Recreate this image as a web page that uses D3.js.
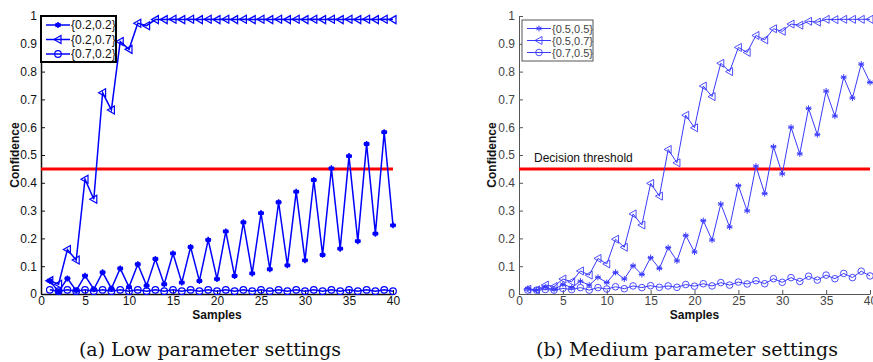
<!DOCTYPE html>
<html lang="en">
<head>
<meta charset="UTF-8">
<title>Confidence vs samples</title>
<script src="https://cdn.jsdelivr.net/npm/d3@7"></script>
<style>
  body { margin: 0; background: #fff; }
  text { font-family: "Liberation Sans", Arial, sans-serif; }
  .caption { font-family: "DejaVu Serif", "Liberation Serif", serif; font-size: 19px; fill: #111; }
</style>
</head>
<body>
<svg id="chart" width="873" height="362"></svg>
<script>
// shared x values: samples 1..40
var samples = [1,2,3,4,5,6,7,8,9,10,11,12,13,14,15,16,17,18,19,20,
               21,22,23,24,25,26,27,28,29,30,31,32,33,34,35,36,37,38,39,40];
var yTicks = [0,0.1,0.2,0.3,0.4,0.5,0.6,0.7,0.8,0.9,1];
var xTicks = [0,5,10,15,20,25,30,35,40];
var threshold = 0.45;

// (a) low parameter settings
var lowLabels = ["{0.2,0.2}", "{0.2,0.7}", "{0.7,0.2}"];
var low22 = [0.048,0.008,0.056,0.012,0.066,0.017,0.078,0.020,0.092,0.025,
             0.107,0.030,0.126,0.035,0.146,0.041,0.169,0.047,0.195,0.054,
             0.225,0.065,0.258,0.074,0.291,0.089,0.330,0.103,0.368,0.121,
             0.410,0.141,0.452,0.163,0.496,0.190,0.540,0.217,0.582,0.247];
var low27 = [0.048,0.035,0.160,0.122,0.413,0.341,0.724,0.662,0.908,0.880,
             0.974,0.965,0.987,0.987,0.988,0.987,0.988,0.987,0.988,0.987,
             0.988,0.987,0.988,0.987,0.988,0.987,0.988,0.987,0.988,0.987,
             0.988,0.987,0.988,0.987,0.988,0.987,0.988,0.987,0.988,0.987];
var low72 = [0.015,0.010,0.015,0.010,0.015,0.010,0.015,0.010,0.015,0.010,
             0.015,0.010,0.015,0.010,0.015,0.010,0.015,0.010,0.015,0.010,
             0.015,0.010,0.015,0.010,0.015,0.010,0.015,0.010,0.015,0.010,
             0.015,0.010,0.015,0.010,0.015,0.010,0.015,0.010,0.015,0.010];

// (b) medium parameter settings
var medLabels = ["{0.5,0.5}", "{0.5,0.7}", "{0.7,0.5}"];
var med55 = [0.020,0.014,0.024,0.016,0.035,0.023,0.046,0.032,0.060,0.041,
             0.078,0.054,0.102,0.070,0.131,0.092,0.167,0.119,0.211,0.151,
             0.264,0.194,0.324,0.241,0.390,0.299,0.460,0.361,0.530,0.432,
             0.600,0.504,0.668,0.573,0.730,0.640,0.780,0.705,0.827,0.761];
var med57 = [0.017,0.015,0.032,0.027,0.054,0.044,0.083,0.068,0.128,0.108,
             0.197,0.168,0.288,0.248,0.398,0.352,0.520,0.472,0.643,0.598,
             0.748,0.710,0.830,0.800,0.887,0.869,0.930,0.914,0.954,0.945,
             0.971,0.967,0.981,0.978,0.988,0.987,0.988,0.988,0.988,0.988];
var med75 = [0.014,0.014,0.016,0.014,0.020,0.016,0.023,0.014,0.023,0.018,
             0.026,0.019,0.029,0.023,0.030,0.024,0.029,0.024,0.034,0.028,
             0.037,0.029,0.041,0.032,0.043,0.036,0.048,0.037,0.055,0.042,
             0.059,0.045,0.064,0.050,0.068,0.055,0.074,0.059,0.082,0.065];

var svg = d3.select("#chart");

// marker drawing
function drawMarker(g, kind, x, y, color, thin) {
  if (kind == "star") {
    var r = 3;
    var p = "";
    [0, 60, 120].forEach(function(a) {
      var t = a * Math.PI / 180;
      p += "M" + (x - r*Math.sin(t)) + "," + (y - r*Math.cos(t)) +
           "L" + (x + r*Math.sin(t)) + "," + (y + r*Math.cos(t));
    });
    p += "M" + (x - r) + "," + y + "L" + (x + r) + "," + y;
    g.append("path").attr("d", p).attr("stroke", color)
      .attr("stroke-width", thin ? 1 : 1.5).attr("fill", "none");
    if (!thin) g.append("circle").attr("cx", x).attr("cy", y).attr("r", 2.2).attr("fill", color);
  } else if (kind == "tri") {
    g.append("path")
      .attr("d", "M" + (x-4) + "," + y + "L" + (x+3) + "," + (y-4) + "L" + (x+3) + "," + (y+4) + "Z")
      .attr("stroke", color).attr("stroke-width", thin ? 0.9 : 1.2).attr("fill", "none");
  } else {
    g.append("circle").attr("cx", x).attr("cy", y).attr("r", 3.3)
      .attr("stroke", color).attr("stroke-width", thin ? 0.9 : 1.2).attr("fill", "none");
  }
}

function drawPanel(opt) {
  var g = svg.append("g");
  var x = d3.scaleLinear().domain([0, 40]).range([opt.left, opt.right]);
  var y = d3.scaleLinear().domain([0, 1]).range([294, 16]);

  // axes, ticks pointing inward
  var yAx = d3.axisLeft(y).tickValues(yTicks).tickSizeInner(-4).tickSizeOuter(0)
    .tickPadding(4).tickFormat(function(d){ return d3.format("")(d); });
  var xAx = d3.axisBottom(x).tickValues(xTicks).tickSizeInner(-4).tickSizeOuter(0).tickPadding(2);

  var ya = g.append("g").attr("transform", "translate(" + opt.left + ",0)").call(yAx);
  var xa = g.append("g").attr("transform", "translate(0,294)").call(xAx);
  [ya, xa].forEach(function(a) {
    a.select(".domain").attr("stroke", opt.axisColor).attr("stroke-width", opt.axisWidth);
    a.selectAll(".tick line").attr("stroke", opt.axisColor);
    a.selectAll("text").attr("font-size", 12).attr("fill", opt.textColor)
      .attr("font-family", "'Liberation Sans', Arial, sans-serif");
  });

  // threshold
  g.append("line")
    .attr("x1", x(0)).attr("x2", x(40))
    .attr("y1", y(threshold)).attr("y2", y(threshold))
    .attr("stroke", "#ff0000").attr("stroke-width", 3);

  if (opt.thresholdText) {
    g.append("text").attr("x", opt.left + 15).attr("y", y(threshold) - 7)
      .attr("font-size", 12).attr("fill", "#111").text("Decision threshold");
  }

  var line = d3.line().x(function(d){ return x(d[0]); }).y(function(d){ return y(d[1]); });

  opt.series.forEach(function(s) {
    var pts = samples.map(function(v, i){ return [v, s.values[i]]; });
    g.append("path").datum(pts).attr("d", line)
      .attr("fill", "none").attr("stroke", opt.color).attr("stroke-width", opt.lineWidth);
    pts.forEach(function(p) {
      drawMarker(g, s.marker, x(p[0]), y(p[1]), opt.color, opt.thin);
    });
  });

  // labels
  g.append("text")
    .attr("transform", "translate(" + opt.yLabelX + "," + y(0.5) + ") rotate(-90)")
    .attr("text-anchor", "middle").attr("font-size", 12).attr("font-weight", "bold")
    .attr("fill", "#111").text("Confidence");
  g.append("text").attr("x", (opt.left + opt.right) / 2).attr("y", 319)
    .attr("text-anchor", "middle").attr("font-size", 12).attr("font-weight", "bold")
    .attr("fill", "#111").text("Samples");
  g.append("text").attr("class", "caption").attr("x", opt.captionX).attr("y", 356)
    .attr("text-anchor", "middle").text(opt.caption);

  // legend
  var L = opt.legend;
  g.append("rect").attr("x", L.x).attr("y", L.y).attr("width", L.w).attr("height", L.h)
    .attr("fill", "#fff").attr("stroke", L.stroke).attr("stroke-width", L.strokeWidth);
  opt.series.forEach(function(s, i) {
    var ry = L.y + L.first + i * L.step;
    g.append("line").attr("x1", L.x + 5).attr("x2", L.x + 29).attr("y1", ry).attr("y2", ry)
      .attr("stroke", opt.color).attr("stroke-width", opt.lineWidth);
    drawMarker(g, s.marker, L.x + 17, ry, opt.color, opt.thin);
    g.append("text").attr("x", L.x + 30).attr("y", ry + 4).attr("font-size", L.fontSize)
      .attr("fill", opt.textColor).text(s.label);
  });
}

drawPanel({
  left: 41, right: 393, yLabelX: 19, captionX: 210,
  caption: "(a) Low parameter settings",
  color: "#0000ff", lineWidth: 1.5, thin: false,
  axisColor: "#111", axisWidth: 1.5, textColor: "#111",
  thresholdText: false,
  legend: {x: 41, y: 16, w: 75, h: 46, first: 9, step: 14.5, stroke: "#000", strokeWidth: 2, fontSize: 12},
  series: [
    {label: lowLabels[0], values: low22, marker: "star"},
    {label: lowLabels[1], values: low27, marker: "tri"},
    {label: lowLabels[2], values: low72, marker: "circle"}
  ]
});

drawPanel({
  left: 519, right: 870, yLabelX: 496, captionX: 687,
  caption: "(b) Medium parameter settings",
  color: "#3a3aff", lineWidth: 1, thin: true,
  axisColor: "#555", axisWidth: 1, textColor: "#444",
  thresholdText: true,
  legend: {x: 522, y: 20, w: 71, h: 41, first: 8.5, step: 12, stroke: "#555", strokeWidth: 1, fontSize: 11},
  series: [
    {label: medLabels[0], values: med55, marker: "star"},
    {label: medLabels[1], values: med57, marker: "tri"},
    {label: medLabels[2], values: med75, marker: "circle"}
  ]
});
</script>
</body>
</html>
